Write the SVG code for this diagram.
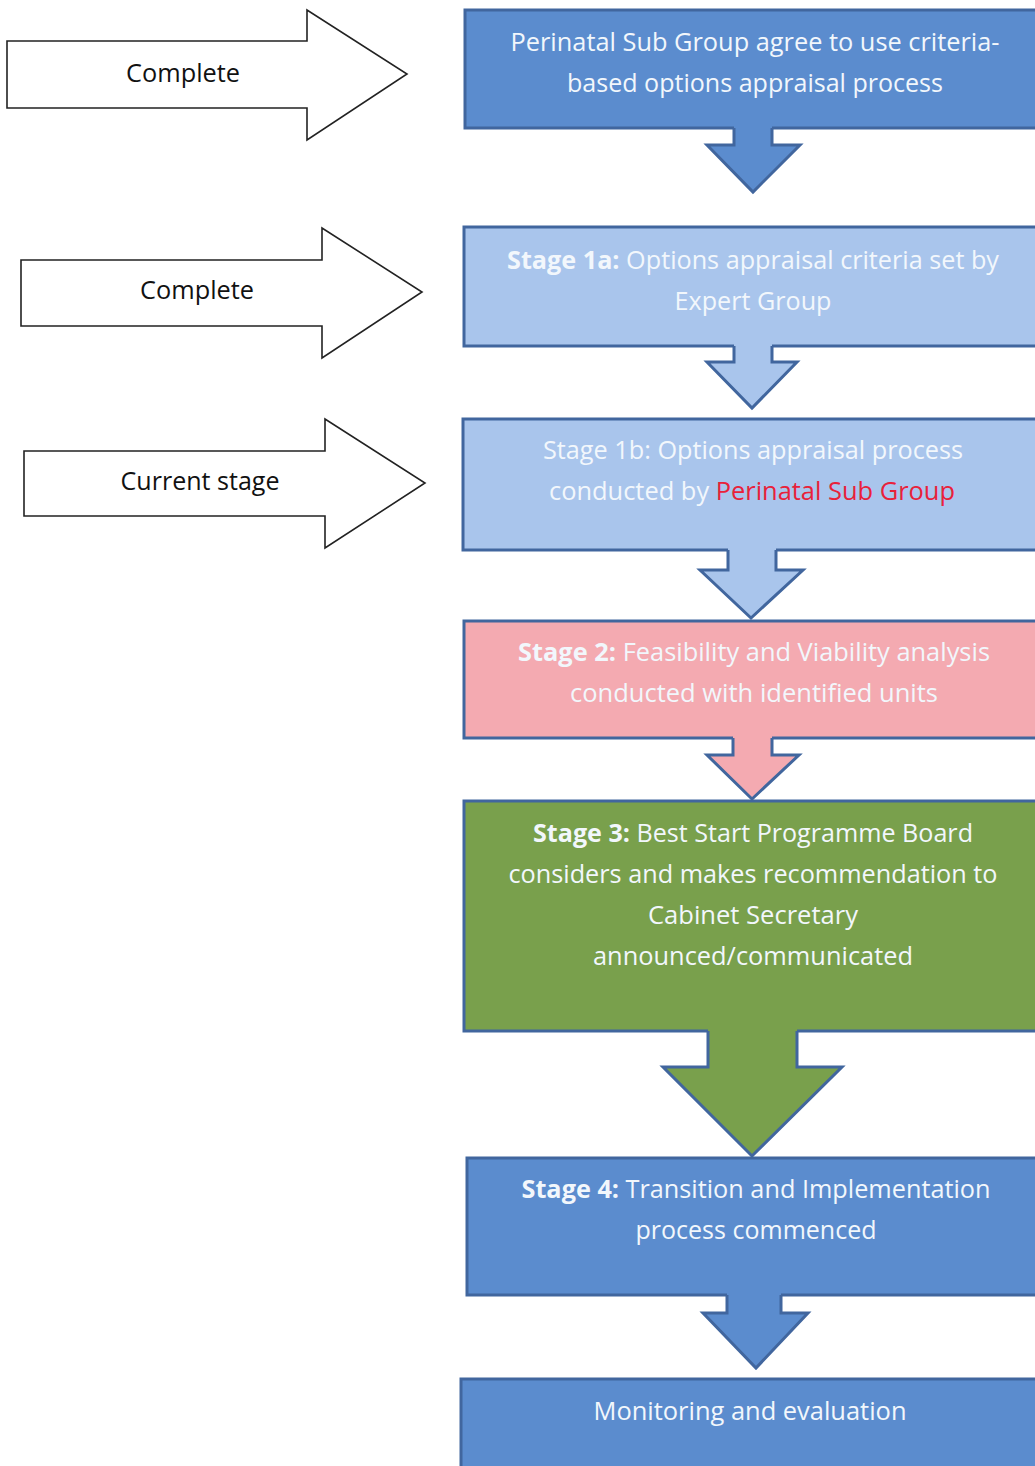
<svg xmlns="http://www.w3.org/2000/svg" width="1035" height="1466" viewBox="0 0 1035 1466">
<style>
.t{font-family:"Open Sans","Liberation Sans",sans-serif;font-size:25.5px;text-anchor:middle;fill:#f2f7fc}
.lt{font-family:"Open Sans","Liberation Sans",sans-serif;font-size:25px;text-anchor:middle;fill:#111}
.b{font-weight:bold}
.red{fill:#e8213a}
.out{fill:#fff;stroke:#222;stroke-width:1.6}
.blue{fill:#5b8cce}
.light{fill:#a9c5ec}
.pink{fill:#f4aab1}
.green{fill:#79a04c}
.edge{fill:none;stroke:#41669e;stroke-width:3}
.box{stroke:#41669e;stroke-width:3}
</style>
<rect width="1035" height="1466" fill="#fff"/>

<g id="status1">
<polygon class="out" points="7,41 307,41 307,10 407,74 307,140 307,108 7,108"/>
<text class="lt" x="183" y="82" textLength="114" lengthAdjust="spacingAndGlyphs">Complete</text>
</g>
<g id="status2">
<polygon class="out" points="21,260 322,260 322,228 422,292 322,358 322,326 21,326"/>
<text class="lt" x="197" y="299" textLength="114" lengthAdjust="spacingAndGlyphs">Complete</text>
</g>
<g id="status3">
<polygon class="out" points="24,451 325,451 325,419 425,483 325,548 325,516 24,516"/>
<text class="lt" x="200" y="490" textLength="159" lengthAdjust="spacingAndGlyphs">Current stage</text>
</g>

<g id="n1">
<rect class="box blue" x="465" y="10" width="580" height="118"/>
<text class="t" x="755" y="51" textLength="489" lengthAdjust="spacingAndGlyphs">Perinatal Sub Group agree to use criteria-</text>
<text class="t" x="755" y="92" textLength="376" lengthAdjust="spacingAndGlyphs">based options appraisal process</text>
</g>
<g id="n2">
<rect class="box light" x="464" y="227" width="580" height="119"/>
<text class="t" x="753" y="269" textLength="492" lengthAdjust="spacingAndGlyphs"><tspan class="b">Stage 1a:</tspan> Options appraisal criteria set by</text>
<text class="t" x="753" y="310" textLength="157" lengthAdjust="spacingAndGlyphs">Expert Group</text>
</g>
<g id="n3">
<rect class="box light" x="463" y="419" width="580" height="131"/>
<text class="t" x="753" y="459" textLength="420" lengthAdjust="spacingAndGlyphs">Stage 1b: Options appraisal process</text>
<text class="t" x="752" y="500" textLength="406" lengthAdjust="spacingAndGlyphs">conducted by <tspan class="red">Perinatal Sub Group</tspan></text>
</g>
<g id="n4">
<rect class="box pink" x="464" y="621" width="580" height="117"/>
<text class="t" x="754" y="661" textLength="472" lengthAdjust="spacingAndGlyphs"><tspan class="b">Stage 2:</tspan> Feasibility and Viability analysis</text>
<text class="t" x="754" y="702" textLength="368" lengthAdjust="spacingAndGlyphs">conducted with identified units</text>
</g>
<g id="n5">
<rect class="box green" x="464" y="801" width="580" height="230"/>
<text class="t" x="753" y="842" textLength="440" lengthAdjust="spacingAndGlyphs"><tspan class="b">Stage 3:</tspan> Best Start Programme Board</text>
<text class="t" x="753" y="883" textLength="489" lengthAdjust="spacingAndGlyphs">considers and makes recommendation to</text>
<text class="t" x="753" y="924" textLength="210" lengthAdjust="spacingAndGlyphs">Cabinet Secretary</text>
<text class="t" x="753" y="965" textLength="320" lengthAdjust="spacingAndGlyphs">announced/communicated</text>
</g>
<g id="n6">
<rect class="box blue" x="467" y="1158" width="580" height="137"/>
<text class="t" x="756" y="1198" textLength="469" lengthAdjust="spacingAndGlyphs"><tspan class="b">Stage 4:</tspan> Transition and Implementation</text>
<text class="t" x="756" y="1239" textLength="241" lengthAdjust="spacingAndGlyphs">process commenced</text>
</g>
<g id="n7">
<rect class="box blue" x="461" y="1379" width="590" height="100"/>
<text class="t" x="750" y="1420" textLength="313" lengthAdjust="spacingAndGlyphs">Monitoring and evaluation</text>
</g>

<g id="connectors">
<polygon class="blue" points="734,126 772,126 772,145 800,145 753,192 707,145 734,145"/>
<polyline class="edge" points="734,128 734,145 707,145 753,192 800,145 772,145 772,128"/>

<polygon class="light" points="734,344 772,344 772,362 797,362 752,408 707,362 734,362"/>
<polyline class="edge" points="734,346 734,362 707,362 752,408 797,362 772,362 772,346"/>

<polygon class="light" points="728,548 776,548 776,570 803,570 751,618 700,570 728,570"/>
<polyline class="edge" points="728,550 728,570 700,570 751,618 803,570 776,570 776,550"/>

<polygon class="pink" points="733,736 772,736 772,755 799,755 752,799 707,755 733,755"/>
<polyline class="edge" points="733,738 733,755 707,755 752,799 799,755 772,755 772,738"/>

<polygon class="green" points="708,1029 797,1029 797,1067 842,1067 752,1156 663,1067 708,1067"/>
<polyline class="edge" points="708,1031 708,1067 663,1067 752,1156 842,1067 797,1067 797,1031"/>

<polygon class="blue" points="727,1293 781,1293 781,1313 808,1313 756,1368 703,1313 727,1313"/>
<polyline class="edge" points="727,1295 727,1313 703,1313 756,1368 808,1313 781,1313 781,1295"/>
</g>
</svg>
